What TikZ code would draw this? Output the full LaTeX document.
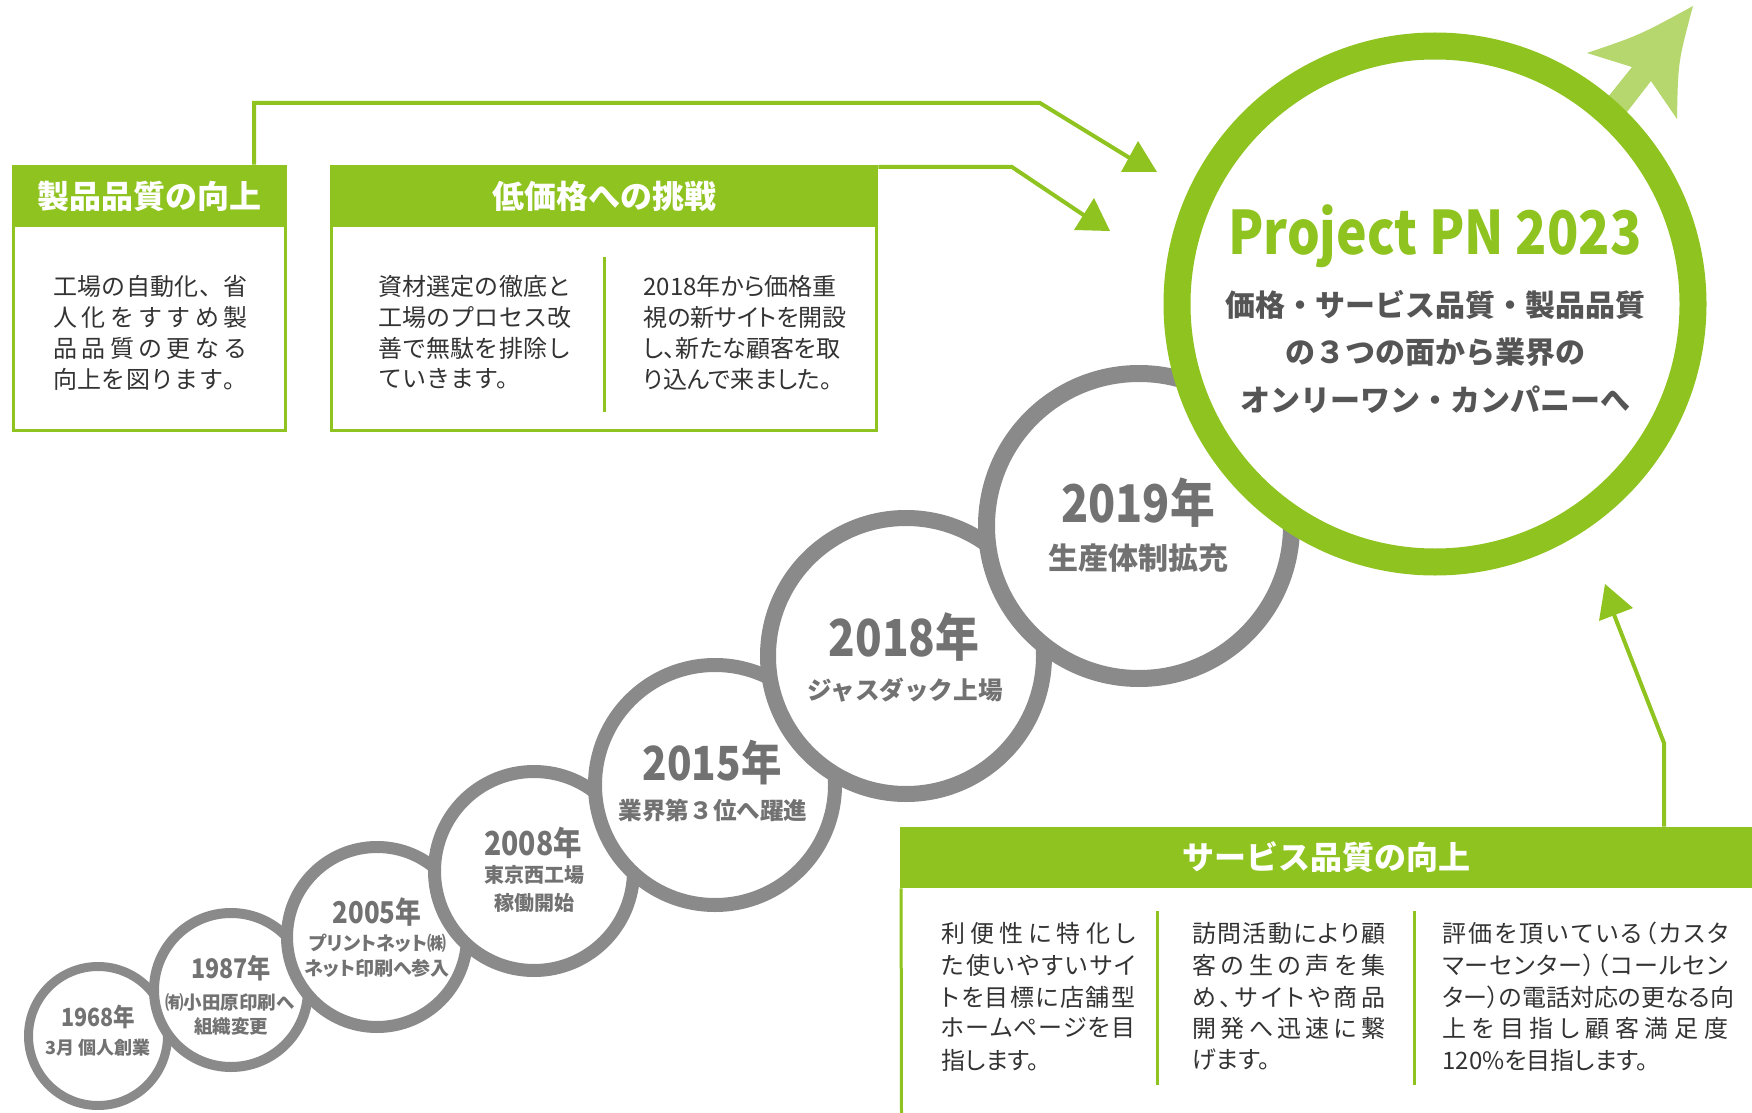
\documentclass[tikz,border=0pt]{standalone}
\usepackage{fontspec}
\newfontfamily\jp{Noto Sans CJK JP}
\newfontfamily\jpp{Noto Sans CJK JP}[RawFeature=+palt]
\newfontfamily\jpc{Noto Sans CJK JP}[FakeStretch=0.86]
\newfontfamily\jpt{Noto Sans CJK JP}[FakeStretch=0.86]
\definecolor{pgreen}{HTML}{8FC31F}
\definecolor{lgreen}{HTML}{B5D76E}
\definecolor{ringgray}{HTML}{8A8A8A}
\definecolor{yeargray}{HTML}{727272}
\definecolor{bodytxt}{HTML}{333333}
\definecolor{titlegray}{HTML}{555555}
\def\spreadstop{\spreadstop}
\def\spreadchars#1{\spreadA#1\spreadstop}
\def\spreadA#1{#1\spreadB}
\def\spreadB#1{\ifx\spreadstop#1\else\hfill#1\expandafter\spreadB\fi}
\newcommand\jline[2]{\hbox to #1{\spreadchars{#2}}}
\newcommand\fs[1]{\fontsize{#1}{#1}\selectfont}
\begin{document}
\begin{tikzpicture}[x=0.5pt,y=-0.5pt,
  ring/.style={circle, draw=ringgray, fill=white, inner sep=0pt},
  yr/.style={text=yeargray, inner sep=0pt, font=\jpc\bfseries\fs{#1}},
  sub/.style={text=yeargray, inner sep=0pt, font=\jp\bfseries\fs{#1}},
  subp/.style={text=yeargray, inner sep=0pt, font=\jpp\bfseries\fs{#1}},
  conn/.style={draw=pgreen, line width=2pt},
  frame/.style={draw=pgreen, line width=1.5pt, inner sep=0pt},
  head/.style={fill=pgreen, text=white, inner sep=0pt, font=\jp\bfseries\fs{16pt}},
  body/.style={text=bodytxt, inner sep=0pt, anchor=west, font=\jp\fs{12pt}},
  bodyp/.style={text=bodytxt, inner sep=0pt, anchor=west, font=\jpp\fs{12pt}},
  divider/.style={draw=pgreen, line width=1.5pt}]
\useasboundingbox (0,0) rectangle (1752,1113);
\fill[white] (0,0) rectangle (1752,1113);

% ---- timeline circles ----
\node[ring, line width=4.5pt, minimum size=69.5pt] (c1968) at (98,1036) {};
\node[yr=12.5pt] (y1968) at (98,1017) {1968年};
\node[sub=9pt] (s1968) at (98,1048) {3月 個人創業};

\node[ring, line width=5pt, minimum size=77pt] (c1987) at (231,990) {};
\node[yr=13.5pt] (y1987) at (231,968) {1987年};
\node[sub=9.25pt] (s1987a) at (230,1002) {㈲小田原印刷へ};
\node[sub=9.25pt] (s1987b) at (231,1027) {組織変更};

\node[ring, line width=6pt, minimum size=90pt] (c2005) at (377,937) {};
\node[yr=15pt] (y2005) at (377,912) {2005年};
\node[subp=9.5pt] (s2005a) at (378,943) {プリントネット㈱};
\node[subp=9.5pt] (s2005b) at (377,968) {ネット印刷へ参入};

\node[ring, line width=6.5pt, minimum size=99.5pt] (c2008) at (534,871) {};
\node[yr=16.5pt] (y2008) at (533,843) {2008年};
\node[sub=10pt] (s2008a) at (534,875) {東京西工場};
\node[sub=10pt] (s2008b) at (534,903) {稼働開始};

\node[ring, line width=7pt, minimum size=120pt] (c2015) at (715,785) {};
\node[yr=23.5pt] (y2015) at (712,763) {2015年};
\node[sub=11.8pt] (s2015) at (713,810) {業界第３位へ躍進};

\node[ring, line width=8pt, minimum size=138pt] (c2018) at (906,656) {};
\node[yr=25.5pt] (y2018) at (904,637) {2018年};
\node[sub=12.3pt] (s2018) at (905,690) {ジャスダック上場};

\node[ring, line width=8.5pt, minimum size=152.5pt] (c2019) at (1139,526) {};
\node[yr=26pt] (y2019) at (1138,503) {2019年};
\node[sub=15pt] (s2019) at (1138,558) {生産体制拡充};

% ---- light arrow out of the big circle ----
\fill[lgreen] (1596,112) -- (1632,67) -- (1587,53)
  .. controls (1640,35) .. (1693,6)
  .. controls (1678,62) .. (1677,119)
  -- (1651,81) -- (1615,127.5) -- cycle;

% ---- big circle ----
\node[circle, draw=pgreen, fill=white, line width=13.5pt, minimum size=258pt, inner sep=0pt] (pn) at (1435,304) {};
\node[text=pgreen, anchor=base, inner sep=0pt, font=\jpt\bfseries\fs{30pt}] (pntitle) at (1435,255) {Project PN 2023};
\node[text=titlegray, inner sep=0pt, font=\jp\bfseries\fs{15pt}] (pn1) at (1435,305) {価格・サービス品質・製品品質};
\node[text=titlegray, inner sep=0pt, font=\jp\bfseries\fs{15pt}] (pn2) at (1435,352) {の３つの面から業界の};
\node[text=titlegray, inner sep=0pt, font=\jp\bfseries\fs{15pt}] (pn3) at (1435,400) {オンリーワン・カンパニーへ};

% ---- box 1 ----
\node[frame, minimum width=136pt, minimum height=132pt] (b1) at (149.5,298.5) {};
\node[head, minimum width=137.5pt, minimum height=31pt] (b1h) at (149.5,196) {製品品質の向上};
\node[body] (b1l1) at (53,286) {\jline{97pt}{工場の自動化、省}};
\node[body] (b1l2) at (53,317) {\jline{97pt}{人化をすすめ製}};
\node[body] (b1l3) at (53,348) {\jline{97pt}{品品質の更なる}};
\node[body] (b1l4) at (53,379) {\jline{97pt}{向上を図ります。}};

% ---- box 2 ----
\node[frame, minimum width=272.5pt, minimum height=132pt] (b2) at (604,298.5) {};
\node[head, minimum width=274pt, minimum height=31pt] (b2h) at (604,196) {低価格への挑戦};
\draw[divider] (604,257) -- (604,412);
\node[body] (b2l1) at (378,286) {\jline{96.5pt}{資材選定の徹底と}};
\node[body] (b2l2) at (378,317) {\jline{96.5pt}{工場のプロセス改}};
\node[body] (b2l3) at (378,348) {\jline{96.5pt}{善で無駄を排除し}};
\node[body] (b2l4) at (378,379) {ていきます。};
\node[bodyp] (b2r1) at (643,286) {\jline{96.5pt}{{2018}年から価格重}};
\node[bodyp] (b2r2) at (643,317) {\jline{96.5pt}{視の新サイトを開設}};
\node[bodyp] (b2r3) at (643,348) {\jline{96.5pt}{し、新たな顧客を取}};
\node[bodyp] (b2r4) at (643,379) {り込んで来ました。};

% ---- box 3 ----
\node[head, minimum width=426pt, minimum height=30.5pt] (b3h) at (1326,857.5) {サービス品質の向上};
\draw[draw=pgreen, line width=1.5pt] (b3h.south west) ++(1.5,0) coordinate (b3l) -- (901.5,1115);
\draw[divider] (1157,911) -- (1157,1085);
\draw[divider] (1414,911) -- (1414,1085);
\node[bodyp] (c1l1) at (941,933) {\jline{97pt}{利便性に特化し}};
\node[bodyp] (c1l2) at (941,965) {\jline{97pt}{た使いやすいサイ}};
\node[bodyp] (c1l3) at (941,997) {\jline{97pt}{トを目標に店舗型}};
\node[bodyp] (c1l4) at (941,1028) {\jline{97pt}{ホームページを目}};
\node[bodyp] (c1l5) at (941,1060) {指します。};
\node[bodyp] (c2l1) at (1192,933) {\jline{96.5pt}{訪問活動により顧}};
\node[bodyp] (c2l2) at (1192,965) {\jline{96.5pt}{客の生の声を集}};
\node[bodyp] (c2l3) at (1192,997) {\jline{96.5pt}{め、サイトや商品}};
\node[bodyp] (c2l4) at (1192,1028) {\jline{96.5pt}{開発へ迅速に繋}};
\node[bodyp] (c2l5) at (1192,1060) {げます。};
\node[bodyp] (c3l1) at (1442,933) {\jline{143pt}{評価を頂いている（カスタ}};
\node[bodyp] (c3l2) at (1442,965) {\jline{143pt}{マーセンター）（コールセン}};
\node[bodyp] (c3l3) at (1442,997) {\jline{143pt}{ター）の電話対応の更なる向}};
\node[bodyp] (c3l4) at (1442,1028) {\jline{143pt}{上を目指し顧客満足度}};
\node[bodyp] (c3l5) at (1442,1060) {120\%を目指します。};

% ---- connectors ----
\coordinate (k1) at (254,103);
\coordinate (k1b) at (1040,103);
\coordinate (a1) at (1133,160);
\draw[conn] (b1h.north -| k1) -- (k1) -- (k1b) -- (a1);
\fill[pgreen] (1138,141) -- (1121,172) -- (1157,172) -- cycle;

\coordinate (k2) at (1012,167);
\coordinate (a2) at (1088,218);
\draw[conn] (b2h.north east |- k2) -- (k2) -- (a2);
\fill[pgreen] (1094,198) -- (1074,230) -- (1110,231) -- cycle;

\coordinate (k3) at (1664,743);
\coordinate (a3) at (1613,612);
\draw[conn] (b3h.north -| k3) -- (k3) -- (a3);
\fill[pgreen] (1605,584) -- (1599,621) -- (1633,608) -- cycle;
\end{tikzpicture}
\end{document}
